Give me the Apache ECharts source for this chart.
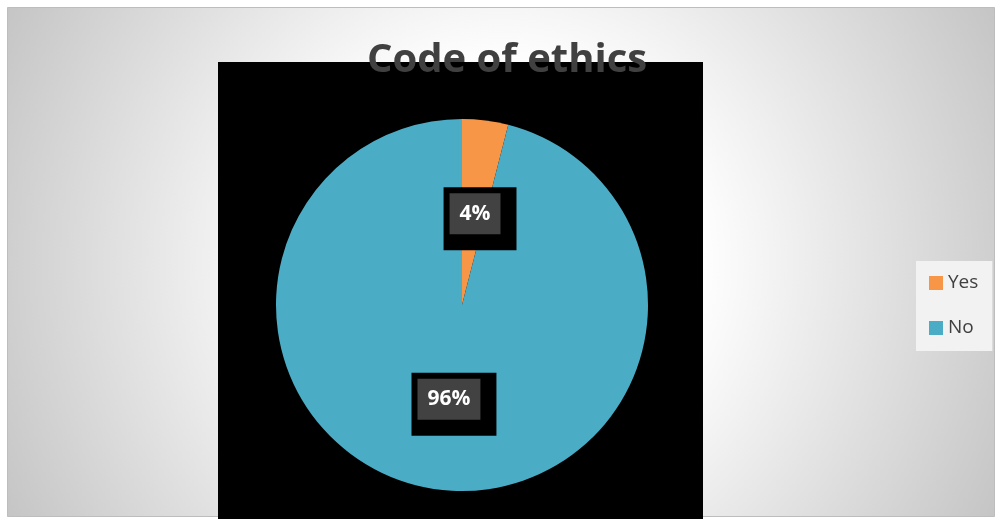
<!DOCTYPE html>
<html>
<head>
<meta charset="utf-8">
<script src="https://cdn.jsdelivr.net/npm/echarts@6/dist/echarts.min.js"></script>
<style>
html,body{margin:0;padding:0;background:#ffffff;}
#chart{width:998px;height:519px;}
</style>
</head>
<body>
<div id="chart"></div>
<script>
var titleText = 'Code of ethics';
var categories = ['Yes', 'No'];
var values = [4, 96];
var colors = ['#F79646', '#4BACC6'];

var chart = echarts.init(document.getElementById('chart'));
var pieData = categories.map(function (c, i) {
  return { name: c, value: values[i], itemStyle: { color: colors[i] } };
});

chart.setOption({
  animation: false,
  graphic: [
    {
      type: 'rect', z: -10,
      shape: { x: 7.5, y: 7.5, width: 987, height: 509 },
      style: {
        fill: new echarts.graphic.RadialGradient(0.5, 0.5, 1.1, [
          { offset: 0, color: '#ffffff' },
          { offset: 0.35, color: '#ffffff' },
          { offset: 1, color: '#c4c4c4' }
        ]),
        stroke: '#bdbdbd', lineWidth: 1
      }
    },
    {
      type: 'rect', z: -5,
      shape: { x: 218, y: 62, width: 485, height: 457 },
      style: { fill: '#000000' }
    }
  ],
  title: {
    text: titleText,
    left: 502,
    top: 36,
    textAlign: 'center',
    textStyle: {
      fontFamily: 'Open Sans', fontWeight: 'bold', fontSize: 40,
      color: '#404040', lineHeight: 40
    }
  },
  legend: {
    orient: 'vertical',
    left: 916, top: 261,
    backgroundColor: '#f2f2f2',
    padding: [12, 14, 13, 13],
    itemWidth: 14, itemHeight: 14, itemGap: 25,
    icon: 'rect',
    data: categories,
    textStyle: { fontFamily: 'Open Sans', fontSize: 19, color: '#404040', lineHeight: 20 }
  },
  series: [{
    type: 'pie',
    center: [462, 305],
    radius: 186,
    startAngle: 90,
    clockwise: true,
    data: pieData,
    label: {
      show: true,
      position: 'inside',
      formatter: '{g|{c}%}',
      backgroundColor: '#000000',
      padding: [6, 16, 16, 6],
      rich: {
        g: {
          backgroundColor: '#424242',
          padding: [0, 10, 0, 10],
          height: 41,
          lineHeight: 41,
          color: '#ffffff',
          fontFamily: 'Open Sans', fontWeight: 'bold', fontSize: 21
        }
      }
    },
    labelLayout: function (p) {
      return p.dataIndex === 0 ? { dx: 6, dy: 9 } : { dx: 4, dy: 4 };
    },
    labelLine: { show: false },
    emphasis: { disabled: true }
  }]
});
</script>
</body>
</html>
